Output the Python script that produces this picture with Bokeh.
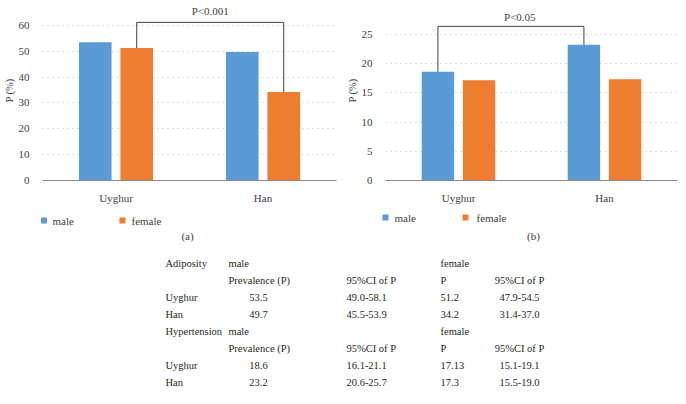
from bokeh.plotting import figure
from bokeh.models import FactorRange, Range1d, FixedTicker, ColumnDataSource
from bokeh.transform import dodge
from bokeh.layouts import column, row
from bokeh.embed import file_html
from bokeh.resources import INLINE
from bokeh.core.properties import value

# ---------------- data ----------------
groups = ["Uyghur", "Han"]
series = ["male", "female"]
adiposity_male = [53.5, 49.7]
adiposity_female = [51.2, 34.2]
hypertension_male = [18.6, 23.2]
hypertension_female = [17.13, 17.3]
adiposity_male_ci = ["49.0-58.1", "45.5-53.9"]
adiposity_female_ci = ["47.9-54.5", "31.4-37.0"]
hypertension_male_ci = ["16.1-21.1", "20.6-25.7"]
hypertension_female_ci = ["15.1-19.1", "15.5-19.0"]
yticks_a = [0, 10, 20, 30, 40, 50, 60]
yticks_b = [0, 5, 10, 15, 20, 25]
sig_a = "P<0.001"
sig_b = "P<0.05"
panel_labels = ["(a)", "(b)"]
table_blocks = ["Adiposity", "Hypertension"]
col_heads = ["Prevalence (P)", "95%CI of P", "P", "95%CI of P"]

BLUE = "#5B9BD5"
ORANGE = "#ED7D31"
FONT = "Liberation Serif"
TXT = "#404040"
OFF = 0.141
BW = 0.222


def bar_panel(male, female, ticks, ymax, left_border, right_border,
              sig_text, sig_off, bracket_vals, bracket_top, text_y, text_off):
    p = figure(x_range=FactorRange(*groups), y_range=Range1d(0, ymax),
               width=343, height=206, output_backend="svg", toolbar_location=None,
               min_border_left=left_border, min_border_right=right_border,
               min_border_top=0, min_border_bottom=25)
    p.outline_line_color = None
    p.background_fill_color = None
    p.border_fill_color = None
    src = ColumnDataSource(dict(g=groups, male=male, female=female))
    p.vbar(x=dodge("g", -OFF, range=p.x_range), top="male", width=BW, source=src,
           fill_color=BLUE, line_color=None)
    p.vbar(x=dodge("g", OFF, range=p.x_range), top="female", width=BW, source=src,
           fill_color=ORANGE, line_color=None)
    bsrc = ColumnDataSource(dict(x=[groups[0], groups[0], groups[1], groups[1]],
                                 y=[bracket_vals[0], bracket_top, bracket_top, bracket_vals[1]]))
    p.line(x=dodge("x", sig_off, range=p.x_range), y="y", source=bsrc,
           line_color="#404040", line_width=1)
    tsrc = ColumnDataSource(dict(x=[groups[0]], y=[text_y], t=[sig_text]))
    p.text(x=dodge("x", 0.5 + text_off, range=p.x_range), y="y", text="t", source=tsrc,
           text_font=value(FONT), text_font_size="11px", text_color=TXT,
           text_align="center", text_baseline="middle")

    p.xgrid.visible = False
    p.ygrid.grid_line_color = "#bfbfbf"
    p.ygrid.grid_line_dash = "1 4"
    p.ygrid.ticker = FixedTicker(ticks=ticks)

    ya = p.yaxis[0]
    ya.ticker = FixedTicker(ticks=ticks)
    ya.axis_line_color = None
    ya.major_tick_line_color = None
    ya.minor_tick_line_color = None
    ya.major_label_standoff = 7
    ya.major_label_text_font = FONT
    ya.major_label_text_font_size = "11px"
    ya.major_label_text_color = TXT
    ya.axis_label = "P (%)"
    ya.axis_label_standoff = 1
    ya.axis_label_text_font = FONT
    ya.axis_label_text_font_size = "10.5px"
    ya.axis_label_text_font_style = "normal"
    ya.axis_label_text_color = TXT

    xa = p.xaxis[0]
    xa.axis_line_color = "#868686"
    xa.axis_line_width = 1
    xa.major_tick_line_color = None
    xa.minor_tick_line_color = None
    xa.major_label_standoff = 5
    xa.major_label_text_font = FONT
    xa.major_label_text_font_size = "11px"
    xa.major_label_text_color = TXT
    return p


pa = bar_panel(adiposity_male, adiposity_female, yticks_a, 69.62, 39, 7,
               sig_a, OFF, [adiposity_female[0], adiposity_female[1]], 61.15, 65.6, OFF)
pb = bar_panel(hypertension_male, hypertension_female, yticks_b, 30.78, 39, 9,
               sig_b, -OFF, [hypertension_male[0], hypertension_male[1]], 26.36, 27.94, -0.08)

# ---------------- legends + table (coordinates are page pixels) ----------------
t = figure(width=686, height=198, x_range=Range1d(0, 686), y_range=Range1d(404, 206),
           output_backend="svg", toolbar_location=None,
           min_border_left=0, min_border_right=0, min_border_top=0, min_border_bottom=0)
t.axis.visible = False
t.grid.visible = False
t.outline_line_color = None

TF = value(FONT)
# legends
t.scatter(x=[43.5, 122], y=[220, 220], marker="square", size=6,
          fill_color=[BLUE, ORANGE], line_color=None)
t.text(x=[52, 131], y=[220, 220], text=series, text_font=TF, text_font_size="11px",
       text_color=TXT, text_baseline="middle", text_align="left")
t.scatter(x=[385, 465], y=[217, 217], marker="square", size=6,
          fill_color=[BLUE, ORANGE], line_color=None)
t.text(x=[394, 476], y=[217, 217], text=series, text_font=TF, text_font_size="11px",
       text_color=TXT, text_baseline="middle", text_align="left")
t.text(x=[187, 533], y=[235, 235], text=panel_labels, text_font=TF, text_font_size="11px",
       text_color=TXT, text_baseline="middle", text_align="center")

# table
row_y = [263, 280, 297, 314, 331, 348, 365, 382]
TS = "10.5px"
TC = "#231f20"


def tcol(x, ys, texts, align):
    t.text(x=[x] * len(ys), y=ys, text=texts, text_font=TF, text_font_size=TS,
           text_color=TC, text_baseline="middle", text_align=align)


blocks = [
    (adiposity_male, adiposity_male_ci, adiposity_female, adiposity_female_ci),
    (hypertension_male, hypertension_male_ci, hypertension_female, hypertension_female_ci),
]
for b, (m, mci, f, fci) in enumerate(blocks):
    ys = row_y[b * 4:(b + 1) * 4]
    tcol(165, [ys[0], ys[2], ys[3]], [table_blocks[b]] + groups, "left")
    tcol(228, [ys[0], ys[1]], [series[0], col_heads[0]], "left")
    tcol(258, [ys[2], ys[3]], [str(v) for v in m], "center")
    tcol(346, [ys[1], ys[2], ys[3]], [col_heads[1]] + mci, "left")
    tcol(440, [ys[0], ys[1], ys[2], ys[3]], [series[1], col_heads[2]] + [str(v) for v in f], "left")
    tcol(519, [ys[1], ys[2], ys[3]], [col_heads[3]] + fci, "center")

layout = column(row(pa, pb, spacing=0), t, spacing=0)
open("out.html", "w").write(file_html(layout, INLINE))
